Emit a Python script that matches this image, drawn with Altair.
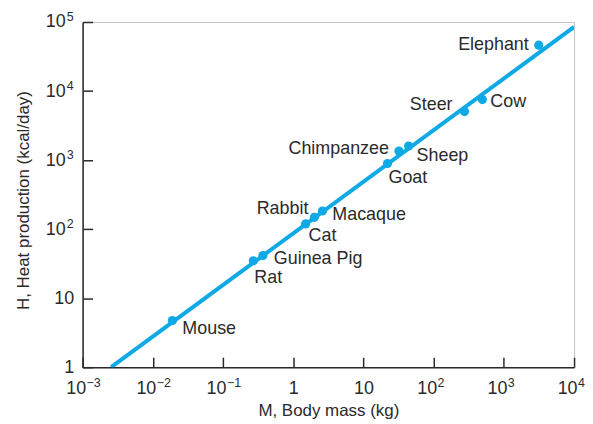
import json
import altair as alt
import pandas as pd

# ---- data ----
animals = ["Mouse", "Rat", "Guinea Pig", "Cat", "Rabbit", "Macaque",
           "Goat", "Chimpanzee", "Sheep", "Steer", "Cow", "Elephant"]
mass_kg = [0.019, 0.27, 0.37, 1.5, 2.0, 2.6, 22, 32, 44, 275, 494, 3140]
heat_kcal = [4.75, 34.8, 41.5, 119, 148, 183, 891, 1352, 1596, 5047, 7516, 46170]

fit_mass = [0.00255, 10000]
fit_heat = [1, 84700]

x_ticks = [1e-3, 1e-2, 1e-1, 1, 10, 100, 1e3, 1e4]
x_tick_base = ["10", "10", "10", "1", "10", "10", "10", "10"]
x_tick_exp = ["−3", "−2", "−1", "", "", "2", "3", "4"]
y_ticks = [1, 10, 100, 1e3, 1e4, 1e5]
y_tick_base = ["1", "10", "10", "10", "10", "10"]
y_tick_exp = ["", "", "2", "3", "4", "5"]

# ---- styling ----
BLUE = "#0fa9e6"
DARK = "#2a2a2a"
FONT = "Liberation Sans"
W, H = 494, 347
BASE_FS = 18
EXP_FS = 12.5

label_style = {
    "Mouse": ("left", 10, 9),
    "Rat": ("left", 1, 17),
    "Guinea Pig": ("left", 11, 4),
    "Cat": ("left", 3, 12),
    "Rabbit": ("right", -6, -8),
    "Macaque": ("left", 10, 4),
    "Goat": ("left", 1, 15),
    "Chimpanzee": ("right", -10, -2),
    "Sheep": ("left", 8, 10),
    "Steer": ("right", -12, -7),
    "Cow": ("left", 8, 2),
    "Elephant": ("right", -10, 0),
}

pts = pd.DataFrame({"animal": animals, "M": mass_kg, "H": heat_kcal})
fit = pd.DataFrame({"M": fit_mass, "H": fit_heat})

xs = alt.Scale(type="log", domain=[1e-3, 1e4], nice=False)
ys = alt.Scale(type="log", domain=[1, 1e5], nice=False)


def lab_expr(labels, shift):
    return json.dumps(labels, ensure_ascii=False) + f"[round(log(datum.value)/LN10)+{shift}]"


PLAIN = "datum.value > 0.5 && datum.value < 20"   # the "1" and "10" labels

# main axes: domain lines, base numbers, titles
x_axis = alt.Axis(orient="bottom", values=x_ticks, labelExpr=lab_expr(x_tick_base, 3),
                  ticks=False, grid=False, domainColor=DARK, domainWidth=1.5,
                  labelPadding=12, labelFontSize=BASE_FS, labelFont=FONT,
                  labelColor=DARK, labelFlush=False, labelOverlap=False,
                  labelBaseline="top",
                  labelAlign={"condition": {"test": PLAIN, "value": "center"}, "value": "right"},
                  labelOffset={"condition": {"test": PLAIN, "value": 0}, "value": 3},
                  title="M, Body mass (kg)", titleFont=FONT, titleFontSize=17,
                  titleFontWeight="normal", titleColor=DARK,
                  titleX=W / 2, titleY=43.5, titleBaseline="middle")
y_axis = alt.Axis(orient="left", values=y_ticks, labelExpr=lab_expr(y_tick_base, 0),
                  ticks=False, grid=False, domainColor=DARK, domainWidth=1.5,
                  labelFontSize=BASE_FS, labelFont=FONT, labelColor=DARK,
                  labelFlush=False, labelOverlap=False, labelAlign="right",
                  labelBaseline="middle",
                  labelPadding={"condition": {"test": PLAIN, "value": 9}, "value": 17.5},
                  title="H, Heat production (kcal/day)", titleFont=FONT,
                  titleFontSize=17, titleFontWeight="normal", titleColor=DARK,
                  titleX=-59, titleY=179, titleBaseline="middle")

# exponent axes (superscripts)
x_exp_axis = alt.Axis(orient="bottom", values=x_ticks, labelExpr=lab_expr(x_tick_exp, 3),
                      ticks=False, domain=False, grid=False, labelPadding=9,
                      labelFontSize=EXP_FS, labelFont=FONT, labelColor=DARK,
                      labelFlush=False, labelOverlap=False, labelAlign="left",
                      labelBaseline="top", labelOffset=3.5, title=None)
y_exp_axis = alt.Axis(orient="left", values=y_ticks, labelExpr=lab_expr(y_tick_exp, 0),
                      ticks=False, domain=False, grid=False, labelPadding=9.5,
                      labelFontSize=EXP_FS, labelFont=FONT, labelColor=DARK,
                      labelFlush=False, labelOverlap=False, labelAlign="right",
                      labelBaseline="middle", labelOffset=-5.5, title=None)

# inward ticks: axes on the opposite side moved onto the plot edge
x_tick_axis = alt.Axis(orient="top", offset=-H, values=x_ticks, labels=False,
                       domain=False, ticks=True, tickSize=10, tickColor=DARK,
                       tickWidth=1.5, grid=False, title=None)
y_tick_axis = alt.Axis(orient="right", offset=-W, values=y_ticks, labels=False,
                       domain=False, ticks=True, tickSize=10, tickColor=DARK,
                       tickWidth=1.5, grid=False, title=None)

line = alt.Chart(fit).mark_line(color=BLUE, strokeWidth=4, clip=True).encode(
    x=alt.X("M:Q", scale=xs, axis=x_axis),
    y=alt.Y("H:Q", scale=ys, axis=y_axis),
)

exp_layer = alt.Chart(fit).mark_line(opacity=0).encode(
    x=alt.X("M:Q", scale=xs, axis=x_exp_axis),
    y=alt.Y("H:Q", scale=ys, axis=y_exp_axis),
)

dots = alt.Chart(pts).mark_circle(color=BLUE, size=85, opacity=1).encode(
    x=alt.X("M:Q", scale=xs, axis=x_tick_axis),
    y=alt.Y("H:Q", scale=ys, axis=y_tick_axis),
)

layers = [line, exp_layer, dots]
for name in animals:
    align, dx, dy = label_style[name]
    layers.append(
        alt.Chart(pts).transform_filter(alt.datum.animal == name)
        .mark_text(align=align, baseline="middle", dx=dx, dy=dy,
                   font=FONT, fontSize=18, color=DARK)
        .encode(x=alt.X("M:Q", scale=xs, axis=None),
                y=alt.Y("H:Q", scale=ys, axis=None),
                text="animal:N")
    )

chart = (
    alt.layer(*layers)
    .resolve_axis(x="independent", y="independent")
    .properties(width=W, height=H, autosize="none",
                padding={"left": 75, "top": 13, "right": 11, "bottom": 51})
    .configure_view(stroke="#c4c4c4", strokeWidth=1)
)

chart.save("out.html", embed_options={"renderer": "svg", "actions": False})
